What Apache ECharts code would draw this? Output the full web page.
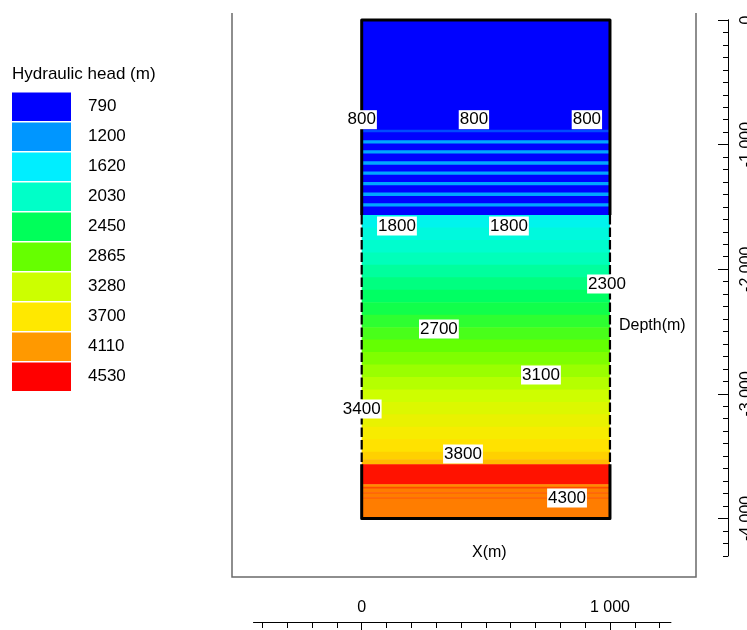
<!DOCTYPE html>
<html><head><meta charset="utf-8">
<script src="https://cdn.jsdelivr.net/npm/echarts@6/dist/echarts.min.js"></script>
<style>html,body{margin:0;padding:0;background:#fff}#c{width:747px;height:630px}</style>
</head><body><div id="c"></div>
<script>
// ---- legend classes (hydraulic head, m) ----
const legendValues = [790, 1200, 1620, 2030, 2450, 2865, 3280, 3700, 4110, 4530];
const palette = ['#0000FF', '#0096FF', '#00EEFF', '#00FFC8', '#00FF5A', '#66FF00', '#CCFF00', '#FFE800', '#FF9900', '#FF0000'];

// ---- model extents (m) ----
const modelX = [0, 1000];
const modelDepth = [0, 4000];
const dashedSpan = [1565, 3565];

// ---- horizontal bands: top depth, bottom depth, head (m) ----
const bandTop = [0, 880, 965, 1045, 1134, 1215, 1300, 1385, 1470,
  1565, 1665, 1765, 1865, 1965, 2065, 2165, 2265, 2365, 2465,
  2565, 2665, 2765, 2865, 2965, 3065, 3165, 3265, 3365, 3465, 3525,
  3565, 3725, 3745, 3760, 3790, 3800, 3830, 3840];
const bandBottom = [1565, 896, 987, 1067, 1156, 1237, 1322, 1407, 1492,
  1665, 1765, 1865, 1965, 2065, 2165, 2265, 2365, 2465, 2565,
  2665, 2765, 2865, 2965, 3065, 3165, 3265, 3365, 3465, 3525, 3565,
  3725, 3745, 3760, 3790, 3800, 3830, 3840, 4000];
const bandHead = [795, 1000, 1280, 1280, 1280, 1280, 1280, 1280, 1280,
  1760, 1880, 1990, 2090, 2200, 2310, 2420, 2520, 2640, 2750,
  2860, 2970, 3080, 3190, 3300, 3410, 3520, 3630, 3730, 3820, 3930,
  4480, 4150, 4330, 4190, 4290, 4190, 4290, 4190];

// ---- contour labels ----
const contourText = ['800', '800', '800', '1800', '1800', '2300', '2700', '3100', '3400', '3800', '4300'];
const contourX = [0, 452, 907, 142, 593, 988, 311, 722, 0, 408, 827];
const contourDepth = [800, 800, 800, 1653, 1653, 2119, 2480, 2849, 3122, 3483, 3836];

// ---- axis ticks ----
const xMinorTicks = [-400, -300, -200, -100, 0, 100, 200, 300, 400, 500, 600, 700, 800, 900, 1000, 1100, 1200];
const xMajorTicks = [0, 1000];
const yMinorTicks = [0, -100, -200, -300, -400, -500, -600, -700, -800, -900, -1000, -1100, -1200, -1300, -1400,
  -1500, -1600, -1700, -1800, -1900, -2000, -2100, -2200, -2300, -2400, -2500, -2600, -2700, -2800, -2900,
  -3000, -3100, -3200, -3300, -3400, -3500, -3600, -3700, -3800, -3900, -4000, -4100, -4200, -4300];
const yMajorTicks = [0, -1000, -2000, -3000, -4000];

function fmtNum(v) {
  const s = String(Math.abs(v)).replace(/\B(?=(\d{3})+(?!\d))/g, ' ');
  return (v < 0 ? '-' : '') + s;
}

const FONT = '"Liberation Sans", Arial, sans-serif';
const chart = echarts.init(document.getElementById('c'), null, {renderer: 'canvas'});

const bandData = bandTop.map((t, i) => [modelX[0], modelX[1], t, bandBottom[i], bandHead[i]]);

const commonX = {type: 'value', min: -435, max: 1245, position: 'bottom', offset: 66.2, splitLine: {show: false}};
const commonY = {type: 'value', min: -4300, max: 0, position: 'right', offset: 57.2, splitLine: {show: false}};

const option = {
  backgroundColor: '#fff',
  animation: false,
  textStyle: {fontFamily: FONT},
  title: [
    {text: 'Hydraulic head (m)', left: 12, top: 66, padding: 0, textStyle: {fontSize: 17, fontWeight: 'normal', color: '#000', fontFamily: FONT}},
    {text: 'X(m)', left: 472, top: 545, padding: 0, textStyle: {fontSize: 16, fontWeight: 'normal', color: '#000', fontFamily: FONT}},
    {text: 'Depth(m)', left: 619, top: 318, padding: 0, textStyle: {fontSize: 16, fontWeight: 'normal', color: '#000', fontFamily: FONT}}
  ],
  grid: {left: 253.7, right: 76.2, top: 20, bottom: 74.2, containLabel: false, outerBoundsMode: 'none'},
  graphic: [{
    type: 'polyline', z: 0, silent: true,
    shape: {points: [[232, 13], [232, 577], [696, 577], [696, 13]]},
    style: {stroke: '#6a6a6a', lineWidth: 1.5, fill: null}
  }],
  xAxis: [
    Object.assign({}, commonX, {
      axisLine: {show: true, onZero: false, lineStyle: {color: '#000', width: 1}},
      axisTick: {show: true, inside: false, length: 6, customValues: xMinorTicks, lineStyle: {color: '#000'}},
      axisLabel: {show: false}
    }),
    Object.assign({}, commonX, {
      axisLine: {show: true, onZero: false, lineStyle: {color: '#000', width: 1}},
      axisTick: {show: true, inside: false, length: 9, customValues: xMajorTicks, lineStyle: {color: '#000'}},
      axisLabel: {show: true, inside: true, margin: 6, customValues: xMajorTicks, formatter: fmtNum,
        color: '#000', fontSize: 16, fontFamily: FONT, showMinLabel: true, showMaxLabel: true, hideOverlap: false}
    })
  ],
  yAxis: [
    Object.assign({}, commonY, {
      axisLine: {show: true, onZero: false, lineStyle: {color: '#000', width: 1}},
      axisTick: {show: true, inside: true, length: 5, customValues: yMinorTicks, lineStyle: {color: '#000'}},
      axisLabel: {show: false}
    }),
    Object.assign({}, commonY, {
      axisLine: {show: true, onZero: false, lineStyle: {color: '#000', width: 1}},
      axisTick: {show: true, inside: true, length: 10, customValues: yMajorTicks, lineStyle: {color: '#000'}},
      axisLabel: {show: true, inside: false, margin: 11, rotate: 90, customValues: yMajorTicks, formatter: fmtNum,
        color: '#000', fontSize: 16, fontFamily: FONT, showMinLabel: true, showMaxLabel: true, hideOverlap: false}
    })
  ],
  visualMap: {
    type: 'continuous', show: false, min: legendValues[0], max: legendValues[legendValues.length - 1],
    dimension: 4, seriesIndex: 0, inRange: {color: palette}
  },
  legend: {
    orient: 'vertical', left: 12, top: 92.5, padding: 0,
    itemWidth: 59, itemHeight: 28.5, itemGap: 1.5, icon: 'rect', selectedMode: false,
    itemStyle: {opacity: 1},
    textStyle: {fontSize: 17, color: '#000', fontFamily: FONT, padding: [4, 0, 0, 12]},
    data: legendValues.map(String)
  },
  series: [
    {
      type: 'custom', name: 'bands', z: 2, silent: true,
      encode: {x: [0, 1], y: [2, 3]},
      data: bandData,
      renderItem: function (params, api) {
        const p1 = api.coord([api.value(0), -api.value(2)]);
        const p2 = api.coord([api.value(1), -api.value(3)]);
        return {
          type: 'rect',
          shape: {x: p1[0], y: p1[1], width: p2[0] - p1[0], height: p2[1] - p1[1] + 0.6},
          style: {fill: api.visual('color')}
        };
      }
    },
    {
      type: 'custom', name: 'outline', z: 3, silent: true,
      data: [[modelX[0], modelX[1], modelDepth[0], modelDepth[1], dashedSpan[0], dashedSpan[1]]],
      renderItem: function (params, api) {
        const x0 = api.value(0), x1 = api.value(1), d0 = api.value(2), d3 = api.value(3), d1 = api.value(4), d2 = api.value(5);
        const c = (x, d) => api.coord([x, -d]);
        const solid = {stroke: '#000', lineWidth: 3, fill: null, lineJoin: 'round'};
        const dashed = {stroke: '#000', lineWidth: 2.2, fill: null, lineDash: [9.5, 3]};
        return {
          type: 'group',
          children: [
            {type: 'polyline', shape: {points: [c(x0, d1), c(x0, d0), c(x1, d0), c(x1, d1)]}, style: solid},
            {type: 'polyline', shape: {points: [c(x0, d2), c(x0, d3), c(x1, d3), c(x1, d2)]}, style: solid},
            {type: 'polyline', shape: {points: [c(x0, d1), c(x0, d2)]}, style: dashed},
            {type: 'polyline', shape: {points: [c(x1, d1), c(x1, d2)]}, style: dashed}
          ]
        };
      }
    },
    {
      type: 'scatter', name: 'contours', z: 5, silent: true,
      symbol: 'circle', symbolSize: 1, itemStyle: {color: 'rgba(0,0,0,0)', opacity: 1},
      data: contourX.map((x, i) => ({value: [x, -contourDepth[i]], name: contourText[i]})),
      label: {
        show: true, position: 'inside', formatter: '{b}', color: '#000', fontSize: 17, fontFamily: FONT,
        backgroundColor: '#fff', padding: [1, 1, 0, 1], lineHeight: 18, opacity: 1
      }
    }
  ].concat(legendValues.map((v, i) => ({
    type: 'scatter', name: String(v), data: [], itemStyle: {color: palette[i], opacity: 1}
  })))
};
chart.setOption(option);
</script>
</body></html>
